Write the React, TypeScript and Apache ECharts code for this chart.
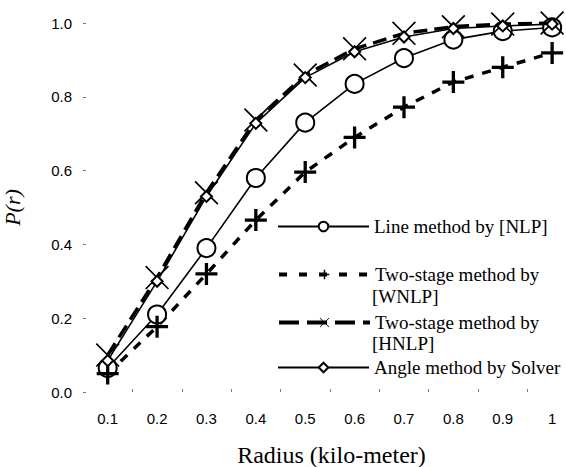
import { useEffect, useRef } from "react";
import * as echarts from "echarts";

const radius = [0.1, 0.2, 0.3, 0.4, 0.5, 0.6, 0.7, 0.8, 0.9, 1.0];
const xTickMarks = [0.15, 0.25, 0.35, 0.45, 0.55, 0.65, 0.75, 0.85, 0.95];

const nameNLP = "Line method by [NLP]";
const nameWNLP = "Two-stage method by [WNLP]";
const nameHNLP = "Two-stage method by [HNLP]";
const nameSolver = "Angle method by Solver";

const valuesNLP = [0.065, 0.21, 0.39, 0.58, 0.73, 0.835, 0.905, 0.955, 0.978, 0.988];
const valuesWNLP = [0.05, 0.177, 0.32, 0.466, 0.596, 0.69, 0.772, 0.84, 0.88, 0.919];
const valuesHNLP = [0.1, 0.31, 0.54, 0.737, 0.859, 0.93, 0.972, 0.99, 0.997, 1.0];
const valuesSolver = [0.085, 0.3, 0.53, 0.728, 0.852, 0.922, 0.962, 0.985, 0.992, 0.997];

const plusPath =
  "path://M-1.5,-10 L1.5,-10 L1.5,-1.5 L10,-1.5 L10,1.5 L1.5,1.5 L1.5,10 L-1.5,10 L-1.5,1.5 L-10,1.5 L-10,-1.5 L-1.5,-1.5 Z";
const crossPath =
  "path://M-9,-10 L0,-1 L9,-10 L10,-9 L1,0 L10,9 L9,10 L0,1 L-9,10 L-10,9 L-1,0 L-10,-9 Z";

const pairs = (vals: number[]) => radius.map((r, i) => [r, vals[i]]);

export default function App() {
  const ref = useRef<HTMLDivElement>(null);
  useEffect(() => {
    if (!ref.current) return;
    const chart = echarts.init(ref.current, null, { renderer: "svg" });
    const serif = "'Liberation Serif', 'Times New Roman', serif";
    const sans = "'Liberation Sans', Arial, sans-serif";
    const legendText = { fontFamily: serif, fontSize: 19, color: "#000" };
    const mkLegend = (name: string, top: number, label: string, lineStyle: any) => ({
      left: 277,
      top,
      padding: 0,
      itemWidth: 91,
      itemHeight: 12,
      selectedMode: false,
      data: [name],
      formatter: () => label,
      textStyle: legendText,
      lineStyle,
    });
    chart.setOption({
      animation: false,
      backgroundColor: "#fff",
      grid: { left: 83, right: 4, top: 23, bottom: 75, outerBoundsMode: "none", containLabel: false },
      xAxis: {
        type: "value",
        min: 0.05,
        max: 1.02,
        axisLine: { show: false },
        splitLine: { show: false },
        axisTick: {
          show: true,
          customValues: xTickMarks,
          length: 3,
          inside: true,
          lineStyle: { color: "#777", width: 1 },
        },
        axisLabel: {
          customValues: radius,
          formatter: (v: number) => (Math.abs(v - 1) < 1e-9 ? "1" : v.toFixed(1)),
          margin: 19,
          fontFamily: sans,
          fontSize: 15,
          color: "#000",
        },
        name: "Radius (kilo-meter)",
        nameLocation: "middle",
        nameGap: 51,
        nameTextStyle: { fontFamily: serif, fontSize: 24, color: "#000", padding: [0, 0, 0, 18] },
      },
      yAxis: {
        type: "value",
        min: 0,
        max: 1,
        interval: 0.2,
        axisLine: { show: false },
        splitLine: { show: false },
        axisTick: { show: true, length: 3, inside: true, lineStyle: { color: "#777" } },
        axisLabel: {
          formatter: (v: number) => v.toFixed(1),
          margin: 11,
          fontFamily: sans,
          fontSize: 15,
          color: "#000",
        },
        name: "P(r)",
        nameLocation: "middle",
        nameRotate: 90,
        nameGap: 60,
        nameTextStyle: { fontFamily: serif, fontSize: 22, fontStyle: "italic", color: "#000" },
      },
      legend: [
        mkLegend(nameNLP, 217, nameNLP, { width: 2 }),
        mkLegend(nameWNLP, 265, "Two-stage method by", { width: 4, type: [8, 12] }),
        mkLegend(nameHNLP, 313, "Two-stage method by", { width: 4, type: [20, 8] }),
        mkLegend(nameSolver, 358, nameSolver, { width: 2 }),
      ],
      graphic: [
        { type: "text", left: 372, top: 287, style: { text: "[WNLP]", font: `19px ${serif}`, fill: "#000" } },
        { type: "text", left: 372, top: 334, style: { text: "[HNLP]", font: `19px ${serif}`, fill: "#000" } },
      ],
      series: [
        {
          name: nameNLP,
          type: "line",
          data: pairs(valuesNLP),
          symbol: "emptyCircle",
          symbolSize: 18,
          lineStyle: { color: "#000", width: 1.6 },
          itemStyle: { color: "#000", borderColor: "#000", borderWidth: 2 },
          z: 3,
        },
        {
          name: nameWNLP,
          type: "line",
          data: pairs(valuesWNLP),
          symbol: plusPath,
          symbolSize: 22,
          lineStyle: { color: "#000", width: 3.5, type: [9, 9] },
          itemStyle: { color: "#000" },
          z: 3,
        },
        {
          name: nameHNLP,
          type: "line",
          data: pairs(valuesHNLP),
          symbol: crossPath,
          symbolSize: 24,
          lineStyle: { color: "#000", width: 3.5, type: [14, 7] },
          itemStyle: { color: "#000" },
          z: 4,
        },
        {
          name: nameSolver,
          type: "line",
          data: pairs(valuesSolver),
          symbol: "emptyDiamond",
          symbolSize: 11,
          lineStyle: { color: "#000", width: 1.6 },
          itemStyle: { color: "#000", borderColor: "#000", borderWidth: 2 },
          z: 4,
        },
      ],
    });
    return () => chart.dispose();
  }, []);
  return <div ref={ref} style={{ width: 566, height: 467, position: "absolute", left: 0, top: 0 }} />;
}
